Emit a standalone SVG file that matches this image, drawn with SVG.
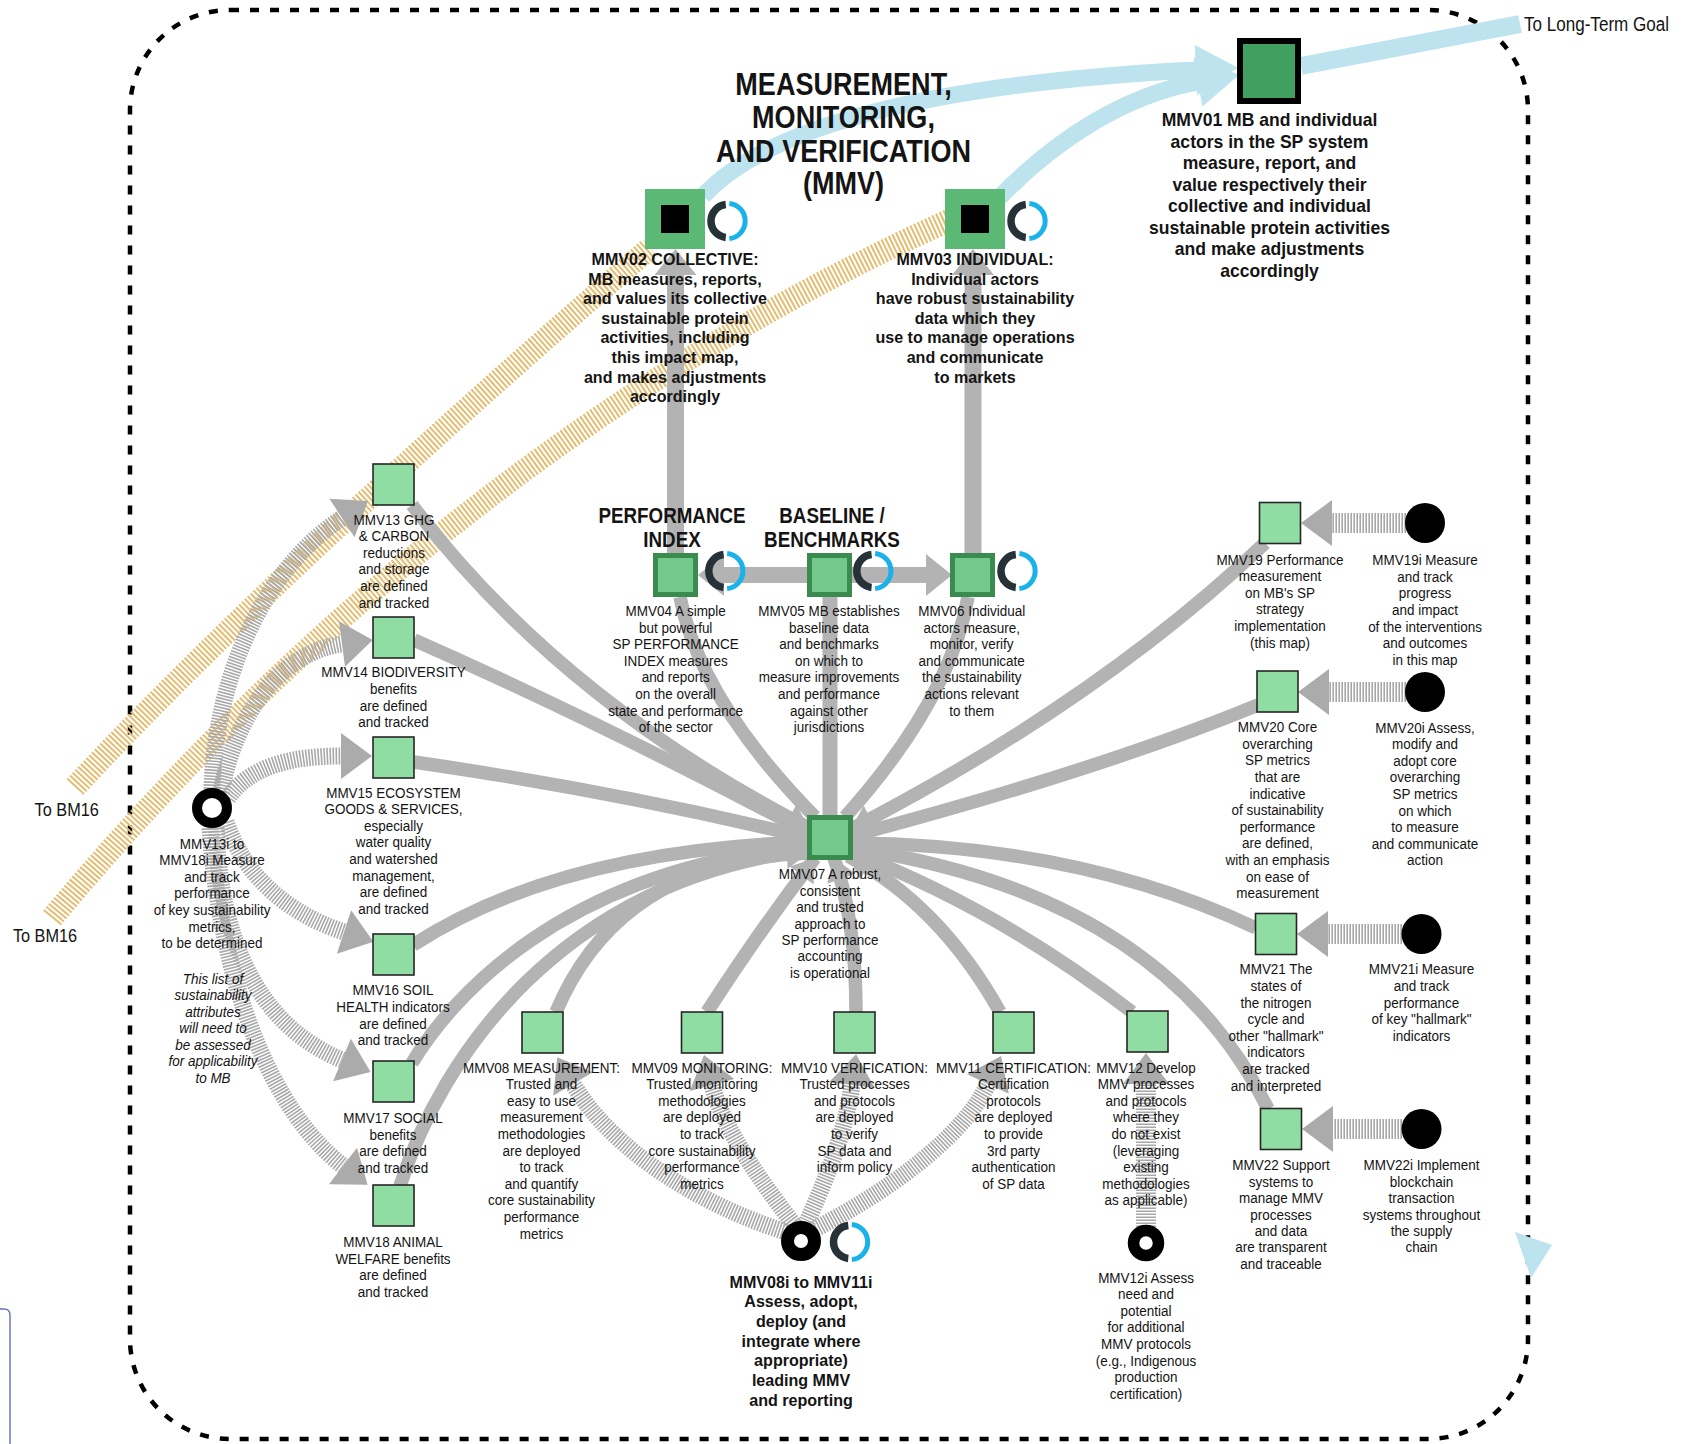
<svg xmlns="http://www.w3.org/2000/svg" width="1691" height="1444" viewBox="0 0 1691 1444">
<defs>
<style>
.t{font-family:"Liberation Sans",Arial,sans-serif;font-size:15.4px;fill:#141414;text-anchor:middle}
.b{font-weight:bold;font-size:17.3px}
.b1{font-weight:bold;font-size:18.6px}
.i{font-style:italic}
.hd{font-weight:bold;font-size:22px}
.ttl{font-weight:bold;font-size:31px}
.sq{fill:#8fdda2;stroke:#262626;stroke-width:1.6}
.mid{fill:#73c98b;stroke:#3a8c4e;stroke-width:5}
.top{fill:#5cb875}
.gl{fill:none;stroke:#b3b3b3;stroke-width:13.5}
.gv{fill:none;stroke:#b3b3b3;stroke-width:17}
.hz{fill:none;stroke:#a8a8a8;stroke-width:17;stroke-dasharray:1.6 1.4}
.hzw{stroke-width:20}
.tan{fill:none;stroke:#e4bd72;stroke-width:23;stroke-dasharray:2 2}
.blu{fill:none;stroke:#bce3ee;stroke-width:17}
.bring{fill:none;stroke:#000}
</style>
<marker id="aG" markerUnits="userSpaceOnUse" orient="auto" refX="0" refY="0" markerWidth="1" markerHeight="1" style="overflow:visible"><path d="M-22,-15 L0,0 L-22,15 Z" fill="#b3b3b3"/></marker>
<marker id="aV" markerUnits="userSpaceOnUse" orient="auto" refX="0" refY="0" markerWidth="1" markerHeight="1" style="overflow:visible"><path d="M0,-21 L26,0 L0,21 Z" fill="#b3b3b3"/></marker>
<marker id="aH" markerUnits="userSpaceOnUse" orient="auto" refX="0" refY="0" markerWidth="1" markerHeight="1" style="overflow:visible"><path d="M0,-23 L31,0 L0,23 Z" fill="#ababab"/></marker>
<marker id="aB" markerUnits="userSpaceOnUse" orient="auto" refX="0" refY="0" markerWidth="1" markerHeight="1" style="overflow:visible"><path d="M0,-25 L42,0 L0,25 Z" fill="#bce3ee"/></marker>
<g id="ringIcon">
<path d="M-1.72,16.41 A16.5,16.5 0 0 1 -1.72,-16.41" fill="none" stroke="#263238" stroke-width="7.5"/>
<path d="M1.85,-17.6 A17.7,17.7 0 0 1 1.85,17.6" fill="none" stroke="#1ab2ea" stroke-width="5"/>
</g>
</defs>

<rect width="1691" height="1444" fill="#fff"/>

<!-- boundary of the MMV area -->
<rect x="130" y="10" width="1398" height="1429" rx="100" ry="100" fill="none" stroke="#000" stroke-width="4.5" stroke-dasharray="9 11"/>
<path d="M0,1309 H4 Q10,1309 10,1315 V1444" fill="none" stroke="#6470b8" stroke-width="1.4"/>

<g id="connectors">
<!-- links out to BM16 -->
<path class="tan" d="M75,787 C230,620 450,420 650,248"/>
<path class="tan" d="M52,918 C250,680 550,400 950,220"/>
<!-- outcome flows -->
<path class="blu" d="M703,196 C760,135 900,85 1196,70" marker-end="url(#aB)"/>
<path class="blu" d="M1000,197 C1055,140 1125,95 1198,82" marker-end="url(#aB)"/>
<path class="blu" style="stroke-width:18" d="M1301,66 Q1410,45 1520,24"/>
<polygon points="1515,1232 1552,1245 1531,1278" fill="#bce3ee"/>
<!-- solid links -->
<path class="gv" d="M675.5,555 V275" marker-end="url(#aV)"/>
<path class="gv" d="M973,555 V275" marker-end="url(#aV)"/>
<path class="gv" style="stroke-width:16" d="M809,575 H724" marker-end="url(#aV)"/>
<path class="gv" style="stroke-width:16" d="M852,575 H926" marker-end="url(#aV)"/>
<path class="gl" style="stroke-width:15" d="M830,817 V597"/>
<path class="gl" d="M815,817 Q700,700 680,597"/>
<path class="gl" d="M845,817 Q950,700 968,597"/>
<path class="gl" d="M412,505 Q560,700 809,828" marker-end="url(#aG)"/>
<path class="gl" d="M414,640 Q600,722 809,833" marker-end="url(#aG)"/>
<path class="gl" d="M414,762 Q620,792 809,838" marker-end="url(#aG)"/>
<path class="gl" d="M413,945 Q560,850 809,842" marker-end="url(#aG)"/>
<path class="gl" d="M412,1063 C450,1000 560,870 809,846" marker-end="url(#aG)"/>
<path class="gl" d="M400,1186 C440,1060 560,880 809,850" marker-end="url(#aG)"/>
<path class="gl" d="M556,1012 Q620,860 809,853" marker-end="url(#aG)"/>
<path class="gl" d="M707,1012 Q760,930 815,858" marker-end="url(#aG)"/>
<path class="gl" d="M856,1012 Q856,920 834,858" marker-end="url(#aG)"/>
<path class="gl" d="M1000,1012 Q940,905 848,856" marker-end="url(#aG)"/>
<path class="gl" d="M1132,1012 Q1000,910 851,852" marker-end="url(#aG)"/>
<path class="gl" d="M1268,1109 C1180,930 1000,870 851,848" marker-end="url(#aG)"/>
<path class="gl" d="M1256,928 Q1080,845 851,843" marker-end="url(#aG)"/>
<path class="gl" d="M1258,705 Q1100,770 851,836" marker-end="url(#aG)"/>
<path class="gl" d="M1265,543 Q1100,700 851,829" marker-end="url(#aG)"/>
<!-- hatched intervention links -->
<path class="hz" d="M212,789 C215,680 262,570 342,518" marker-end="url(#aH)"/>
<path class="hz" d="M221,792 C236,712 282,652 342,644" marker-end="url(#aH)"/>
<path class="hz" d="M228,798 C250,766 292,756 341,756" marker-end="url(#aH)"/>
<path class="hz" d="M226,822 C246,880 292,915 344,932" marker-end="url(#aH)"/>
<path class="hz" d="M216,828 C221,960 270,1030 342,1060" marker-end="url(#aH)"/>
<path class="hz" d="M210,828 C220,980 270,1110 343,1166" marker-end="url(#aH)"/>
<path class="hz" d="M786,1232 C700,1205 612,1150 573,1084" marker-end="url(#aH)"/>
<path class="hz" d="M795,1226 C760,1180 724,1130 712,1085" marker-end="url(#aH)"/>
<path class="hz" d="M806,1224 C826,1180 846,1130 852,1085" marker-end="url(#aH)"/>
<path class="hz" d="M813,1230 C880,1196 962,1140 988,1084" marker-end="url(#aH)"/>
<path class="hz hzw" d="M1146,1230 V1084" marker-end="url(#aH)"/>
<path class="hz hzw" d="M1406,523 H1332" marker-end="url(#aH)"/>
<path class="hz hzw" d="M1406,692 H1329" marker-end="url(#aH)"/>
<path class="hz hzw" d="M1402,934 H1328" marker-end="url(#aH)"/>
<path class="hz hzw" d="M1402,1129 H1333" marker-end="url(#aH)"/>
</g>

<g id="labels-free">
<text class="t ttl" transform="matrix(0.873 0 0 1 843.5 0)"><tspan x="0" y="95">MEASUREMENT,</tspan><tspan x="0" y="128.3">MONITORING,</tspan><tspan x="0" y="161.7">AND VERIFICATION</tspan><tspan x="0" y="194">(MMV)</tspan></text>
<text class="t" style="font-size:19.5px;text-anchor:start" transform="matrix(0.875 0 0 1 1524 0)"><tspan x="0" y="31">To Long-Term Goal</tspan></text>
<text class="t" style="font-size:18.6px" transform="matrix(0.875 0 0 1 66.7 0)"><tspan x="0" y="816.5">To BM16</tspan></text>
<text class="t" style="font-size:18.6px" transform="matrix(0.875 0 0 1 45 0)"><tspan x="0" y="942.5">To BM16</tspan></text>
<text class="t hd" transform="matrix(0.855 0 0 1 672 0)"><tspan x="0" y="523">PERFORMANCE</tspan><tspan x="0" y="547.3">INDEX</tspan></text>
<text class="t hd" transform="matrix(0.855 0 0 1 832 0)"><tspan x="0" y="523">BASELINE /</tspan><tspan x="0" y="547.3">BENCHMARKS</tspan></text>
<text class="t i" transform="matrix(0.875 0 0 1 213 0)"><tspan x="0" y="983.7">This list of</tspan><tspan x="0" dy="16.5">sustainability</tspan><tspan x="0" dy="16.5">attributes</tspan><tspan x="0" dy="16.5">will need to</tspan><tspan x="0" dy="16.5">be assessed</tspan><tspan x="0" dy="16.5">for applicability</tspan><tspan x="0" dy="16.5">to MB</tspan></text>
</g>

<g id="MMV01">
<rect x="1240" y="41" width="58" height="60" fill="#41a060" stroke="#000" stroke-width="6"/>
<text class="t b1" transform="matrix(0.945 0 0 1 1269.5 0)"><tspan x="0" y="126.5">MMV01 MB and individual</tspan><tspan x="0" dy="21.5">actors in the SP system</tspan><tspan x="0" dy="21.5">measure, report, and</tspan><tspan x="0" dy="21.5">value respectively their</tspan><tspan x="0" dy="21.5">collective and individual</tspan><tspan x="0" dy="21.5">sustainable protein activities</tspan><tspan x="0" dy="21.5">and make adjustments</tspan><tspan x="0" dy="21.5">accordingly</tspan></text>
</g>

<g id="MMV02">
<rect class="top" x="645" y="189" width="60" height="60"/>
<rect x="661" y="205" width="28" height="28" fill="#000"/>
<use href="#ringIcon" x="727.5" y="221"/>
<text class="t b" transform="matrix(0.93 0 0 1 675 0)"><tspan x="0" y="265">MMV02 COLLECTIVE:</tspan><tspan x="0" dy="19.6">MB measures, reports,</tspan><tspan x="0" dy="19.6">and values its collective</tspan><tspan x="0" dy="19.6">sustainable protein</tspan><tspan x="0" dy="19.6">activities, including</tspan><tspan x="0" dy="19.6">this impact map,</tspan><tspan x="0" dy="19.6">and makes adjustments</tspan><tspan x="0" dy="19.6">accordingly</tspan></text>
</g>

<g id="MMV03">
<rect class="top" x="945" y="189" width="60" height="60"/>
<rect x="961" y="205" width="28" height="28" fill="#000"/>
<use href="#ringIcon" x="1027.5" y="221"/>
<text class="t b" transform="matrix(0.93 0 0 1 975 0)"><tspan x="0" y="265">MMV03 INDIVIDUAL:</tspan><tspan x="0" dy="19.6">Individual actors</tspan><tspan x="0" dy="19.6">have robust sustainability</tspan><tspan x="0" dy="19.6">data which they</tspan><tspan x="0" dy="19.6">use to manage operations</tspan><tspan x="0" dy="19.6">and communicate</tspan><tspan x="0" dy="19.6">to markets</tspan></text>
</g>

<g id="MMV04">
<rect class="mid" x="655.5" y="555.5" width="40" height="39"/>
<use href="#ringIcon" x="725.3" y="571"/>
<text class="t" transform="matrix(0.875 0 0 1 675.7 0)"><tspan x="0" y="616">MMV04 A simple</tspan><tspan x="0" dy="16.6">but powerful</tspan><tspan x="0" dy="16.6">SP PERFORMANCE</tspan><tspan x="0" dy="16.6">INDEX measures</tspan><tspan x="0" dy="16.6">and reports</tspan><tspan x="0" dy="16.6">on the overall</tspan><tspan x="0" dy="16.6">state and performance</tspan><tspan x="0" dy="16.6">of the sector</tspan></text>
</g>

<g id="MMV05">
<rect class="mid" x="809.5" y="555.5" width="40" height="39"/>
<use href="#ringIcon" x="873.3" y="571"/>
<text class="t" transform="matrix(0.875 0 0 1 829 0)"><tspan x="0" y="616">MMV05 MB establishes</tspan><tspan x="0" dy="16.6">baseline data</tspan><tspan x="0" dy="16.6">and benchmarks</tspan><tspan x="0" dy="16.6">on which to</tspan><tspan x="0" dy="16.6">measure improvements</tspan><tspan x="0" dy="16.6">and performance</tspan><tspan x="0" dy="16.6">against other</tspan><tspan x="0" dy="16.6">jurisdictions</tspan></text>
</g>

<g id="MMV06">
<rect class="mid" x="952.5" y="555.5" width="40" height="39"/>
<use href="#ringIcon" x="1017.5" y="571"/>
<text class="t" transform="matrix(0.875 0 0 1 971.7 0)"><tspan x="0" y="616">MMV06 Individual</tspan><tspan x="0" dy="16.6">actors measure,</tspan><tspan x="0" dy="16.6">monitor, verify</tspan><tspan x="0" dy="16.6">and communicate</tspan><tspan x="0" dy="16.6">the sustainability</tspan><tspan x="0" dy="16.6">actions relevant</tspan><tspan x="0" dy="16.6">to them</tspan></text>
</g>

<g id="MMV07">
<rect class="mid" x="809.5" y="817.5" width="41" height="40"/>
<text class="t" transform="matrix(0.875 0 0 1 830 0)"><tspan x="0" y="879.4">MMV07 A robust,</tspan><tspan x="0" dy="16.4">consistent</tspan><tspan x="0" dy="16.4">and trusted</tspan><tspan x="0" dy="16.4">approach to</tspan><tspan x="0" dy="16.4">SP performance</tspan><tspan x="0" dy="16.4">accounting</tspan><tspan x="0" dy="16.4">is operational</tspan></text>
</g>

<g id="MMV08">
<rect class="sq" x="522" y="1012" width="41" height="41"/>
<text class="t" transform="matrix(0.875 0 0 1 541.5 0)"><tspan x="0" y="1072.7">MMV08 MEASUREMENT:</tspan><tspan x="0" dy="16.6">Trusted and</tspan><tspan x="0" dy="16.6">easy to use</tspan><tspan x="0" dy="16.6">measurement</tspan><tspan x="0" dy="16.6">methodologies</tspan><tspan x="0" dy="16.6">are deployed</tspan><tspan x="0" dy="16.6">to track</tspan><tspan x="0" dy="16.6">and quantify</tspan><tspan x="0" dy="16.6">core sustainability</tspan><tspan x="0" dy="16.6">performance</tspan><tspan x="0" dy="16.6">metrics</tspan></text>
</g>

<g id="MMV09">
<rect class="sq" x="681.5" y="1012" width="41" height="41"/>
<text class="t" transform="matrix(0.875 0 0 1 702 0)"><tspan x="0" y="1072.7">MMV09 MONITORING:</tspan><tspan x="0" dy="16.6">Trusted monitoring</tspan><tspan x="0" dy="16.6">methodologies</tspan><tspan x="0" dy="16.6">are deployed</tspan><tspan x="0" dy="16.6">to track</tspan><tspan x="0" dy="16.6">core sustainability</tspan><tspan x="0" dy="16.6">performance</tspan><tspan x="0" dy="16.6">metrics</tspan></text>
</g>

<g id="MMV10">
<rect class="sq" x="834" y="1012" width="41" height="41"/>
<text class="t" transform="matrix(0.875 0 0 1 854.5 0)"><tspan x="0" y="1072.7">MMV10 VERIFICATION:</tspan><tspan x="0" dy="16.6">Trusted processes</tspan><tspan x="0" dy="16.6">and protocols</tspan><tspan x="0" dy="16.6">are deployed</tspan><tspan x="0" dy="16.6">to verify</tspan><tspan x="0" dy="16.6">SP data and</tspan><tspan x="0" dy="16.6">inform policy</tspan></text>
</g>

<g id="MMV11">
<rect class="sq" x="993" y="1012" width="41" height="41"/>
<text class="t" transform="matrix(0.875 0 0 1 1013.5 0)"><tspan x="0" y="1072.7">MMV11 CERTIFICATION:</tspan><tspan x="0" dy="16.6">Certification</tspan><tspan x="0" dy="16.6">protocols</tspan><tspan x="0" dy="16.6">are deployed</tspan><tspan x="0" dy="16.6">to provide</tspan><tspan x="0" dy="16.6">3rd party</tspan><tspan x="0" dy="16.6">authentication</tspan><tspan x="0" dy="16.6">of SP data</tspan></text>
</g>

<g id="MMV12">
<rect class="sq" x="1127" y="1011" width="41" height="41"/>
<text class="t" transform="matrix(0.875 0 0 1 1146 0)"><tspan x="0" y="1072.7">MMV12 Develop</tspan><tspan x="0" dy="16.6">MMV processes</tspan><tspan x="0" dy="16.6">and protocols</tspan><tspan x="0" dy="16.6">where they</tspan><tspan x="0" dy="16.6">do not exist</tspan><tspan x="0" dy="16.6">(leveraging</tspan><tspan x="0" dy="16.6">existing</tspan><tspan x="0" dy="16.6">methodologies</tspan><tspan x="0" dy="16.6">as applicable)</tspan></text>
</g>

<g id="MMV13">
<rect class="sq" x="373" y="464" width="41" height="41"/>
<text class="t" transform="matrix(0.875 0 0 1 394 0)"><tspan x="0" y="524.7">MMV13 GHG</tspan><tspan x="0" dy="16.6">&amp; CARBON</tspan><tspan x="0" dy="16.6">reductions</tspan><tspan x="0" dy="16.6">and storage</tspan><tspan x="0" dy="16.6">are defined</tspan><tspan x="0" dy="16.6">and tracked</tspan></text>
</g>

<g id="MMV14">
<rect class="sq" x="373" y="617" width="41" height="41"/>
<text class="t" transform="matrix(0.875 0 0 1 393.5 0)"><tspan x="0" y="677.4">MMV14 BIODIVERSITY</tspan><tspan x="0" dy="16.6">benefits</tspan><tspan x="0" dy="16.6">are defined</tspan><tspan x="0" dy="16.6">and tracked</tspan></text>
</g>

<g id="MMV15">
<rect class="sq" x="373" y="737" width="41" height="41"/>
<text class="t" transform="matrix(0.875 0 0 1 393.5 0)"><tspan x="0" y="797.7">MMV15 ECOSYSTEM</tspan><tspan x="0" dy="16.6">GOODS &amp; SERVICES,</tspan><tspan x="0" dy="16.6">especially</tspan><tspan x="0" dy="16.6">water quality</tspan><tspan x="0" dy="16.6">and watershed</tspan><tspan x="0" dy="16.6">management,</tspan><tspan x="0" dy="16.6">are defined</tspan><tspan x="0" dy="16.6">and tracked</tspan></text>
</g>

<g id="MMV16">
<rect class="sq" x="373" y="934" width="41" height="41"/>
<text class="t" transform="matrix(0.875 0 0 1 393 0)"><tspan x="0" y="995.4">MMV16 SOIL</tspan><tspan x="0" dy="16.6">HEALTH indicators</tspan><tspan x="0" dy="16.6">are defined</tspan><tspan x="0" dy="16.6">and tracked</tspan></text>
</g>

<g id="MMV17">
<rect class="sq" x="373" y="1061" width="41" height="41"/>
<text class="t" transform="matrix(0.875 0 0 1 393 0)"><tspan x="0" y="1123">MMV17 SOCIAL</tspan><tspan x="0" dy="16.6">benefits</tspan><tspan x="0" dy="16.6">are defined</tspan><tspan x="0" dy="16.6">and tracked</tspan></text>
</g>

<g id="MMV18">
<rect class="sq" x="373" y="1185" width="41" height="41"/>
<text class="t" transform="matrix(0.875 0 0 1 393 0)"><tspan x="0" y="1247">MMV18 ANIMAL</tspan><tspan x="0" dy="16.6">WELFARE benefits</tspan><tspan x="0" dy="16.6">are defined</tspan><tspan x="0" dy="16.6">and tracked</tspan></text>
</g>

<g id="MMV13i-18i">
<circle class="bring" cx="212" cy="808" r="15" stroke-width="10"/>
<text class="t" transform="matrix(0.875 0 0 1 212 0)"><tspan x="0" y="848.7">MMV13i to</tspan><tspan x="0" dy="16.6">MMV18i Measure</tspan><tspan x="0" dy="16.6">and track</tspan><tspan x="0" dy="16.6">performance</tspan><tspan x="0" dy="16.6">of key sustainability</tspan><tspan x="0" dy="16.6">metrics,</tspan><tspan x="0" dy="16.6">to be determined</tspan></text>
</g>

<g id="MMV08i-11i">
<circle class="bring" cx="801" cy="1241" r="13.5" stroke-width="13"/>
<use href="#ringIcon" x="850" y="1242"/>
<text class="t b" transform="matrix(0.93 0 0 1 801 0)"><tspan x="0" y="1287.7">MMV08i to MMV11i</tspan><tspan x="0" dy="19.7">Assess, adopt,</tspan><tspan x="0" dy="19.7">deploy (and</tspan><tspan x="0" dy="19.7">integrate where</tspan><tspan x="0" dy="19.7">appropriate)</tspan><tspan x="0" dy="19.7">leading MMV</tspan><tspan x="0" dy="19.7">and reporting</tspan></text>
</g>

<g id="MMV12i">
<circle class="bring" cx="1146" cy="1243" r="12.5" stroke-width="11.5"/>
<text class="t" transform="matrix(0.875 0 0 1 1146 0)"><tspan x="0" y="1282.7">MMV12i Assess</tspan><tspan x="0" dy="16.6">need and</tspan><tspan x="0" dy="16.6">potential</tspan><tspan x="0" dy="16.6">for additional</tspan><tspan x="0" dy="16.6">MMV protocols</tspan><tspan x="0" dy="16.6">(e.g., Indigenous</tspan><tspan x="0" dy="16.6">production</tspan><tspan x="0" dy="16.6">certification)</tspan></text>
</g>

<g id="MMV19">
<rect class="sq" x="1259.5" y="502.5" width="41" height="41"/>
<text class="t" transform="matrix(0.875 0 0 1 1280 0)"><tspan x="0" y="564.6">MMV19 Performance</tspan><tspan x="0" dy="16.6">measurement</tspan><tspan x="0" dy="16.6">on MB's SP</tspan><tspan x="0" dy="16.6">strategy</tspan><tspan x="0" dy="16.6">implementation</tspan><tspan x="0" dy="16.6">(this map)</tspan></text>
</g>

<g id="MMV19i">
<circle cx="1425" cy="523" r="20" fill="#000"/>
<text class="t" transform="matrix(0.875 0 0 1 1425 0)"><tspan x="0" y="565.2">MMV19i Measure</tspan><tspan x="0" dy="16.6">and track</tspan><tspan x="0" dy="16.6">progress</tspan><tspan x="0" dy="16.6">and impact</tspan><tspan x="0" dy="16.6">of the interventions</tspan><tspan x="0" dy="16.6">and outcomes</tspan><tspan x="0" dy="16.6">in this map</tspan></text>
</g>

<g id="MMV20">
<rect class="sq" x="1257" y="671" width="41" height="41"/>
<text class="t" transform="matrix(0.875 0 0 1 1277.5 0)"><tspan x="0" y="732.2">MMV20 Core</tspan><tspan x="0" dy="16.6">overarching</tspan><tspan x="0" dy="16.6">SP metrics</tspan><tspan x="0" dy="16.6">that are</tspan><tspan x="0" dy="16.6">indicative</tspan><tspan x="0" dy="16.6">of sustainability</tspan><tspan x="0" dy="16.6">performance</tspan><tspan x="0" dy="16.6">are defined,</tspan><tspan x="0" dy="16.6">with an emphasis</tspan><tspan x="0" dy="16.6">on ease of</tspan><tspan x="0" dy="16.6">measurement</tspan></text>
</g>

<g id="MMV20i">
<circle cx="1425" cy="692" r="20" fill="#000"/>
<text class="t" transform="matrix(0.875 0 0 1 1425 0)"><tspan x="0" y="732.7">MMV20i Assess,</tspan><tspan x="0" dy="16.6">modify and</tspan><tspan x="0" dy="16.6">adopt core</tspan><tspan x="0" dy="16.6">overarching</tspan><tspan x="0" dy="16.6">SP metrics</tspan><tspan x="0" dy="16.6">on which</tspan><tspan x="0" dy="16.6">to measure</tspan><tspan x="0" dy="16.6">and communicate</tspan><tspan x="0" dy="16.6">action</tspan></text>
</g>

<g id="MMV21">
<rect class="sq" x="1255.5" y="913.5" width="41" height="41"/>
<text class="t" transform="matrix(0.875 0 0 1 1276 0)"><tspan x="0" y="974.5">MMV21 The</tspan><tspan x="0" dy="16.6">states of</tspan><tspan x="0" dy="16.6">the nitrogen</tspan><tspan x="0" dy="16.6">cycle and</tspan><tspan x="0" dy="16.6">other "hallmark"</tspan><tspan x="0" dy="16.6">indicators</tspan><tspan x="0" dy="16.6">are tracked</tspan><tspan x="0" dy="16.6">and interpreted</tspan></text>
</g>

<g id="MMV21i">
<circle cx="1421.5" cy="934" r="20" fill="#000"/>
<text class="t" transform="matrix(0.875 0 0 1 1421.5 0)"><tspan x="0" y="974.5">MMV21i Measure</tspan><tspan x="0" dy="16.6">and track</tspan><tspan x="0" dy="16.6">performance</tspan><tspan x="0" dy="16.6">of key "hallmark"</tspan><tspan x="0" dy="16.6">indicators</tspan></text>
</g>

<g id="MMV22">
<rect class="sq" x="1260.5" y="1108.5" width="41" height="41"/>
<text class="t" transform="matrix(0.875 0 0 1 1281 0)"><tspan x="0" y="1170.4">MMV22 Support</tspan><tspan x="0" dy="16.4">systems to</tspan><tspan x="0" dy="16.4">manage MMV</tspan><tspan x="0" dy="16.4">processes</tspan><tspan x="0" dy="16.4">and data</tspan><tspan x="0" dy="16.4">are transparent</tspan><tspan x="0" dy="16.4">and traceable</tspan></text>
</g>

<g id="MMV22i">
<circle cx="1421.5" cy="1129" r="20" fill="#000"/>
<text class="t" transform="matrix(0.875 0 0 1 1421.5 0)"><tspan x="0" y="1170.4">MMV22i Implement</tspan><tspan x="0" dy="16.4">blockchain</tspan><tspan x="0" dy="16.4">transaction</tspan><tspan x="0" dy="16.4">systems throughout</tspan><tspan x="0" dy="16.4">the supply</tspan><tspan x="0" dy="16.4">chain</tspan></text>
</g>
</svg>
